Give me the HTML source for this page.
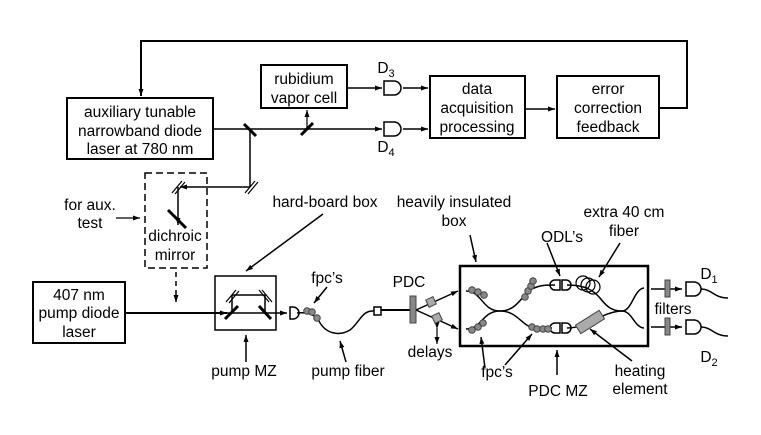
<!DOCTYPE html>
<html><head><meta charset="utf-8"><style>
html,body{margin:0;padding:0;background:#fff}
svg{display:block}
text{font-family:"Liberation Sans",Arial,sans-serif;font-size:15.5px;fill:#000;text-anchor:middle}
</style></head><body>
<svg width="761" height="435" viewBox="0 0 761 435" xmlns="http://www.w3.org/2000/svg">
<defs>
<marker id="a" markerWidth="8" markerHeight="8" refX="7" refY="4" orient="auto" markerUnits="userSpaceOnUse"><path d="M0,1.5 L7,4 L0,6.5z" fill="#000"/></marker>
<marker id="s" markerWidth="8" markerHeight="8" refX="1" refY="4" orient="auto-start-reverse" markerUnits="userSpaceOnUse"><path d="M7,1.5 L0,4 L7,6.5z" fill="#000"/></marker>
</defs>
<g fill="none" stroke="#000" stroke-width="2">
<!-- top boxes -->
<rect x="67" y="98" width="146" height="61"/>
<rect x="261" y="65" width="86" height="43"/>
<rect x="430" y="76" width="95" height="62"/>
<rect x="557" y="76" width="102" height="62"/>
<!-- feedback loop -->
<path d="M659,108 L687,108 L687,41 L141,41 L141,96" marker-end="url(#a)" stroke-width="2"/>
<path d="M525,109 L555,109" marker-end="url(#a)" stroke-width="1.5"/>
<!-- beam -->
<path d="M213,129 L382,129" marker-end="url(#a)" stroke-width="1.5"/>
<path d="M347,88 L382,88" marker-end="url(#a)" stroke-width="1.5"/>
<path d="M307,129 L307,110" marker-end="url(#a)" stroke-width="1.2"/>
<path d="M250,129 L250,187" stroke-width="1.5"/>
<path d="M250,187 L180,187" marker-end="url(#a)" stroke-width="1.5"/>
<path d="M178,187 L178,225" marker-end="url(#a)" stroke-width="1.5"/>
<path d="M403,88 L428,88" marker-end="url(#a)" stroke-width="1.5"/>
<path d="M403,129 L428,129" marker-end="url(#a)" stroke-width="1.5"/>
<!-- mirrors -->
<path d="M244,124 L256,136" stroke-width="3"/>
<path d="M301,135 L313,123" stroke-width="3"/>
<path d="M245,193 L255,181 M248,194 L258,182" stroke-width="1.2"/>
<path d="M172,193 L182,181 M175,194 L185,182" stroke-width="1.2"/>
<path d="M168,210 L186,228" stroke-width="3"/>
<!-- detectors -->
<path d="M384,81 L394,81 A7,7 0 0 1 394,95 L384,95 Z" stroke-width="1.5"/>
<path d="M384,122 L394,122 A7,7 0 0 1 394,136 L384,136 Z" stroke-width="1.5"/>
<!-- dashed box -->
<rect x="145" y="173" width="62" height="95" stroke-dasharray="7,4" stroke-width="1.5"/>
<path d="M176,272 L176,300" stroke-dasharray="5,4" stroke-width="1.5"/>
<path d="M176,296 L176,302" marker-end="url(#a)" stroke-width="1.5"/>
<path d="M116,218 L140,218" marker-end="url(#a)" stroke-width="1.2"/>
<!-- 407 laser -->
<rect x="33" y="282" width="92" height="61"/>
<path d="M125,313 L227,313" marker-end="url(#a)" stroke-width="2"/>
<!-- hard-board -->
<rect x="215" y="276" width="61" height="54" stroke-width="1.5"/>
<path d="M232,295 L265,295 M232,295 L232,313 M265,295 L265,313" stroke-width="1.5"/>
<path d="M226,302 L236,290 M229,303 L239,291 M259,290 L269,302 M262,290 L272,302" stroke-width="1.2"/>
<path d="M225,319 L238,306 M259,306 L271,319" stroke-width="3"/>
<path d="M227,313 L287,313" marker-end="url(#a)" stroke-width="1.5"/>
<path d="M290,307 L293,307 A6,6 0 0 1 293,319 L290,319 Z" stroke-width="1.5"/>
<path d="M323,214 L246,271" marker-end="url(#a)" stroke-width="1.5"/>
<path d="M246,362 L246,335" marker-end="url(#a)" stroke-width="1.5"/>
<!-- pump fiber -->
<path d="M297,313 C305,312 312,313 318,319 C325,335 340,336 350,330 C360,322 362,310 374,311" stroke-width="1.5"/>
<path d="M374,307 L381,307 L381,315 L374,315 Z" stroke-width="1.5"/>
<path d="M381,310 L411,310" stroke-width="2"/>
<path d="M327,287 L314,303" marker-end="url(#a)" stroke-width="1.5"/>
<path d="M346,362 L340,341" marker-end="url(#a)" stroke-width="1.5"/>
<!-- PDC -->
<path d="M416,310 L458,291" marker-end="url(#a)" stroke-width="1.5"/>
<path d="M416,310 L458,329" marker-end="url(#a)" stroke-width="1.5"/>
<path d="M437,328 L437,344" marker-start="url(#s)" marker-end="url(#a)" stroke-width="1.2"/>
<!-- insulated box -->
<rect x="460" y="266" width="188" height="80" stroke-width="2.5"/>
<path d="M470,235 L476,262" marker-end="url(#a)" stroke-width="1.5"/>
<path d="M547,243 L560,276" marker-end="url(#a)" stroke-width="1.5"/>
<path d="M620,243 L599,277" marker-end="url(#a)" stroke-width="1.5"/>
<path d="M557,375 L557,350" marker-end="url(#a)" stroke-width="1.5"/>
<path d="M485,368 L481,337" marker-end="url(#a)" stroke-width="1.5"/>
<path d="M505,365 L532,334" marker-end="url(#a)" stroke-width="1.5"/>
<path d="M632,361 L590,329" marker-end="url(#a)" stroke-width="1.5"/>
<!-- fibers inside -->
<path d="M466,291 C482,291 482,311 500,311 C518,311 522,294 532,289 C540,285 546,285 555,285" stroke-width="1.5"/>
<path d="M466,329 C482,329 482,311 500,311 C518,311 522,327 535,328 L552,328" stroke-width="1.5"/>
<path d="M567,285 C585,285 593,290 600,298 C607,307 612,311 622,311 C632,311 634,289 644,288" stroke-width="1.5"/>
<path d="M567,328 C590,328 600,312 622,311 C632,311 634,327 644,328" stroke-width="1.5"/>
<path d="M555,280 L560,280 L560,290 L555,290 A5,5 0 0 1 555,280 Z M562,280 L566,280 A5,5 0 0 1 566,290 L562,290 Z" stroke-width="1.5"/>
<path d="M555,323 L560,323 L560,333 L555,333 A5,5 0 0 1 555,323 Z M562,323 L566,323 A5,5 0 0 1 566,333 L562,333 Z" stroke-width="1.5"/>
<circle cx="583" cy="283" r="7" stroke-width="1.2"/>
<circle cx="588" cy="285" r="7" stroke-width="1.2"/>
<circle cx="593" cy="287" r="7" stroke-width="1.2"/>
<!-- outputs -->
<path d="M651,289 L682,289" marker-end="url(#a)" stroke-width="1.5"/>
<path d="M651,327 L682,327" marker-end="url(#a)" stroke-width="1.5"/>
<path d="M686,282 L694,282 A7,7 0 0 1 694,296 L686,296 Z" stroke-width="1.5"/>
<path d="M686,320 L694,320 A7,7 0 0 1 694,334 L686,334 Z" stroke-width="1.5"/>
<path d="M701,289 C712,289 714,298 728,298" stroke-width="1.5"/>
<path d="M701,327 C712,327 714,336 728,336" stroke-width="1.5"/>
</g>
<!-- filled items -->
<g stroke="#444" stroke-width="1" fill="#888">
<rect x="410" y="296" width="6" height="27"/>
<rect x="665" y="280" width="5" height="17"/>
<rect x="665" y="318" width="5" height="17"/>
<rect x="427" y="298" width="8" height="8" fill="#aaa" transform="rotate(-25 431 302)"/>
<rect x="433" y="314" width="8" height="8" fill="#aaa" transform="rotate(-25 437 318)"/>
<rect x="576" y="317" width="28" height="10" fill="#aaa" transform="rotate(-32 590 322)"/>
<circle cx="307" cy="311" r="3.3"/><circle cx="312" cy="312" r="3.3"/><circle cx="317" cy="318" r="3.3"/>
<circle cx="472" cy="290" r="3.3"/><circle cx="478" cy="292" r="3.3"/><circle cx="484" cy="295" r="3.3"/>
<circle cx="525" cy="297" r="3.3"/><circle cx="528" cy="291" r="3.3"/><circle cx="531" cy="286" r="3.3"/><circle cx="533" cy="281" r="3.3"/>
<circle cx="472" cy="330" r="3.3"/><circle cx="478" cy="327" r="3.3"/><circle cx="483" cy="323" r="3.3"/>
<circle cx="532" cy="327" r="3.3"/><circle cx="537" cy="329" r="3.3"/><circle cx="543" cy="329" r="3.3"/><circle cx="548" cy="329" r="3.3"/>
</g>
<!-- text -->
<text x="140" y="117">auxiliary tunable</text>
<text x="140" y="136">narrowband diode</text>
<text x="140" y="154">laser at 780 nm</text>
<text x="304" y="84">rubidium</text>
<text x="304" y="103">vapor cell</text>
<text x="477" y="94">data</text>
<text x="477" y="113">acquisition</text>
<text x="477" y="132">processing</text>
<text x="608" y="94">error</text>
<text x="608" y="113">correction</text>
<text x="608" y="132">feedback</text>
<text x="386" y="73">D<tspan font-size="11" dy="4">3</tspan></text>
<text x="386" y="152">D<tspan font-size="11" dy="4">4</tspan></text>
<text x="90" y="210">for aux.</text>
<text x="90" y="228">test</text>
<text x="175" y="241">dichroic</text>
<text x="175" y="260">mirror</text>
<text x="79" y="300">407 nm</text>
<text x="79" y="318">pump diode</text>
<text x="79" y="337">laser</text>
<text x="325" y="207">hard-board box</text>
<text x="244" y="376">pump MZ</text>
<text x="327" y="283">fpc’s</text>
<text x="348" y="376">pump fiber</text>
<text x="409" y="287">PDC</text>
<text x="430" y="357">delays</text>
<text x="454" y="207">heavily insulated</text>
<text x="454" y="226">box</text>
<text x="562" y="242">ODL’s</text>
<text x="624" y="217">extra 40 cm</text>
<text x="624" y="236">fiber</text>
<text x="673" y="314">filters</text>
<text x="709" y="279">D<tspan font-size="11" dy="4">1</tspan></text>
<text x="709" y="362">D<tspan font-size="11" dy="4">2</tspan></text>
<text x="497" y="377">fpc’s</text>
<text x="558" y="396">PDC MZ</text>
<text x="640" y="376">heating</text>
<text x="640" y="394">element</text>
</svg>
</body></html>
